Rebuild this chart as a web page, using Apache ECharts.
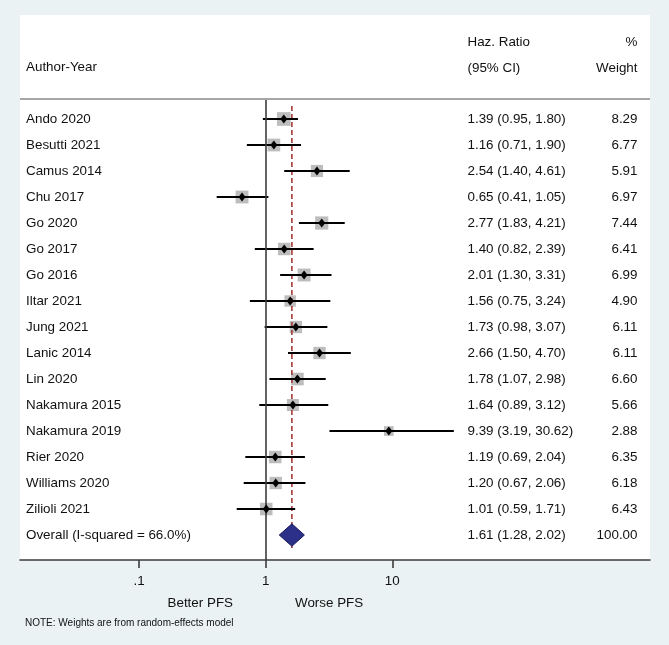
<!DOCTYPE html>
<html>
<head>
<meta charset="utf-8">
<script src="https://cdn.jsdelivr.net/npm/echarts@6/dist/echarts.min.js"></script>
<style>
  html, body { margin: 0; padding: 0; background: #EAF2F3; }
  #chart { width: 669px; height: 645px; }
</style>
</head>
<body>
<div id="chart"></div>
<script>
// ---- data ----
const studies = ['Ando 2020', 'Besutti 2021', 'Camus 2014', 'Chu 2017', 'Go 2020', 'Go 2017', 'Go 2016',
  'Iltar 2021', 'Jung 2021', 'Lanic 2014', 'Lin 2020', 'Nakamura 2015', 'Nakamura 2019', 'Rier 2020',
  'Williams 2020', 'Zilioli 2021'];
const hazRatio = [1.39, 1.16, 2.54, 0.65, 2.77, 1.40, 2.01, 1.56, 1.73, 2.66, 1.78, 1.64, 9.39, 1.19, 1.20, 1.01];
const ciLow    = [0.95, 0.71, 1.40, 0.41, 1.83, 0.82, 1.30, 0.75, 0.98, 1.50, 1.07, 0.89, 3.19, 0.69, 0.67, 0.59];
const ciHigh   = [1.80, 1.90, 4.61, 1.05, 4.21, 2.39, 3.31, 3.24, 3.07, 4.70, 2.98, 3.12, 30.62, 2.04, 2.06, 1.71];
const weights  = [8.29, 6.77, 5.91, 6.97, 7.44, 6.41, 6.99, 4.90, 6.11, 6.11, 6.60, 5.66, 2.88, 6.35, 6.18, 6.43];
const overallLabel = 'Overall (I-squared = 66.0%)';
const overallHR = 1.61, overallLow = 1.28, overallHigh = 2.02, overallWeight = 100.00;
const tickValues = [0.1, 1, 10];
const tickLabels = ['.1', '1', '10'];

// ---- layout / style ----
const TXT = '#111111';
const lg = Math.log10;
const nRows = studies.length;          // overall row index = nRows
const GRID = { left: 20, right: 19, top: 99, bottom: 85 };
const XMIN = -1.9408, XMAX = 3.0355;   // log10 range of the plot box
const YMIN = -0.769, YMAX = 16.96;     // row units (26px per row)

const names = studies.concat([overallLabel]);
const hrText = hazRatio.map((h, i) => `${h.toFixed(2)} (${ciLow[i].toFixed(2)}, ${ciHigh[i].toFixed(2)})`)
  .concat([`${overallHR.toFixed(2)} (${overallLow.toFixed(2)}, ${overallHigh.toFixed(2)})`]);
const wText = weights.map(w => w.toFixed(2)).concat([overallWeight.toFixed(2)]);

function txt(text, x, y, align, size) {
  return {
    type: 'text', x: x, y: y, silent: true,
    style: { text: text, fill: TXT, font: (size || 13.4) + 'px "Liberation Sans", Arial, sans-serif',
             textAlign: align, textVerticalAlign: 'middle', align: align, verticalAlign: 'middle' }
  };
}

const chart = echarts.init(document.getElementById('chart'), null, { renderer: 'canvas' });
chart.setOption({
  backgroundColor: '#EAF2F3',
  animation: false,
  grid: { left: GRID.left, right: GRID.right, top: GRID.top, bottom: GRID.bottom,
          show: true, backgroundColor: '#ffffff', borderWidth: 0, containLabel: false, outerBoundsMode: 'none' },
  xAxis: {
    type: 'value', min: XMIN, max: XMAX,
    axisLine: { show: true, onZero: false, lineStyle: { color: '#3c3c3c', width: 1.6 } },
    axisTick: { show: true, customValues: tickValues.map(lg), length: 8, lineStyle: { color: '#3c3c3c', width: 1.6 } },
    axisLabel: { show: true, customValues: tickValues.map(lg), margin: 15,
                 formatter: v => tickLabels[tickValues.findIndex(t => Math.abs(lg(t) - v) < 1e-6)],
                 color: TXT, fontSize: 13.4, fontFamily: '"Liberation Sans", Arial, sans-serif' },
    splitLine: { show: false }
  },
  yAxis: {
    type: 'value', inverse: true, min: YMIN, max: YMAX, show: false,
    splitLine: { show: false }
  },
  graphic: [
    { type: 'rect', shape: { x: 20, y: 15, width: 630, height: 84 }, style: { fill: '#ffffff' }, silent: true, z: -1 },
    { type: 'line', shape: { x1: 20, y1: 99, x2: 650, y2: 99 }, style: { stroke: '#a6a6a6', lineWidth: 2 }, silent: true, z: 10 },
    txt('Author-Year', 26, 67, 'left'),
    txt('Haz. Ratio', 467.5, 42, 'left'),
    txt('(95% CI)', 467.5, 68, 'left'),
    txt('%', 637.5, 42, 'right'),
    txt('Weight', 637.5, 68, 'right'),
    txt('Better PFS', 233, 603, 'right'),
    txt('Worse PFS', 295, 603, 'left'),
    txt('NOTE: Weights are from random-effects model', 25, 623.5, 'left', 10)
  ],
  series: [
    {
      // grey weight boxes + null line at HR = 1
      type: 'scatter', z: 2, silent: true,
      symbol: 'rect',
      data: hazRatio.map((h, i) => ({ value: [lg(h), i], symbolSize: 3.9 + 3.4 * Math.sqrt(weights[i]) })),
      itemStyle: { color: '#bdbdbd', opacity: 1 },
      markLine: {
        silent: true, symbol: 'none', animation: false,
        label: { show: false },
        data: [ { xAxis: 0, lineStyle: { color: '#3c3c3c', width: 1.6, type: 'solid' } } ]
      }
    },
    {
      // overall effect line (dashed), under the overall diamond
      type: 'custom', z: 3, silent: true,
      encode: { x: 0, y: [1, 2] },
      data: [[lg(overallHR), -0.5, nRows + 0.5]],
      renderItem: (params, api) => {
        const p1 = api.coord([api.value(0), api.value(1)]);
        const p2 = api.coord([api.value(0), api.value(2)]);
        return { type: 'line', shape: { x1: p1[0], y1: p1[1], x2: p2[0], y2: p2[1] },
                 style: { stroke: '#a33a3a', lineWidth: 1.6, lineDash: [5, 3] } };
      }
    },
    {
      // confidence intervals
      type: 'custom', z: 4, silent: true,
      encode: { x: [1, 2], y: 0 },
      data: hazRatio.map((h, i) => [i, lg(ciLow[i]), lg(ciHigh[i])]),
      renderItem: (params, api) => {
        const i = api.value(0);
        const p1 = api.coord([api.value(1), i]);
        const p2 = api.coord([api.value(2), i]);
        return { type: 'line', shape: { x1: p1[0], y1: p1[1], x2: p2[0], y2: p2[1] },
                 style: { stroke: '#000000', lineWidth: 2 } };
      }
    },
    {
      // point estimates
      type: 'scatter', z: 5, silent: true,
      symbol: 'diamond', symbolSize: [7, 9],
      data: hazRatio.map((h, i) => [lg(h), i]),
      itemStyle: { color: '#000000', opacity: 1 }
    },
    {
      // overall diamond
      type: 'custom', z: 6, silent: true,
      encode: { x: [0, 1, 2], y: 3 },
      data: [[lg(overallLow), lg(overallHR), lg(overallHigh), nRows]],
      renderItem: (params, api) => {
        const r = api.value(3), h = 0.43;
        const pts = [
          api.coord([api.value(0), r]),
          api.coord([api.value(1), r - h]),
          api.coord([api.value(2), r]),
          api.coord([api.value(1), r + h])
        ];
        return { type: 'polygon', shape: { points: pts },
                 style: { fill: '#2c3088', stroke: '#16185c', lineWidth: 1 } };
      }
    },
    {
      // text columns (rows positioned by the y scale)
      type: 'custom', z: 7, silent: true, clip: false,
      encode: { y: 0 },
      data: names.map((n, i) => [i]),
      renderItem: (params, api) => {
        const i = api.value(0);
        const y = api.coord([0, i])[1];
        return { type: 'group', children: [
          txt(names[i], 26, y, 'left'),
          txt(hrText[i], 467.5, y, 'left'),
          txt(wText[i], 637.5, y, 'right')
        ] };
      }
    }
  ]
});
</script>
</body>
</html>
